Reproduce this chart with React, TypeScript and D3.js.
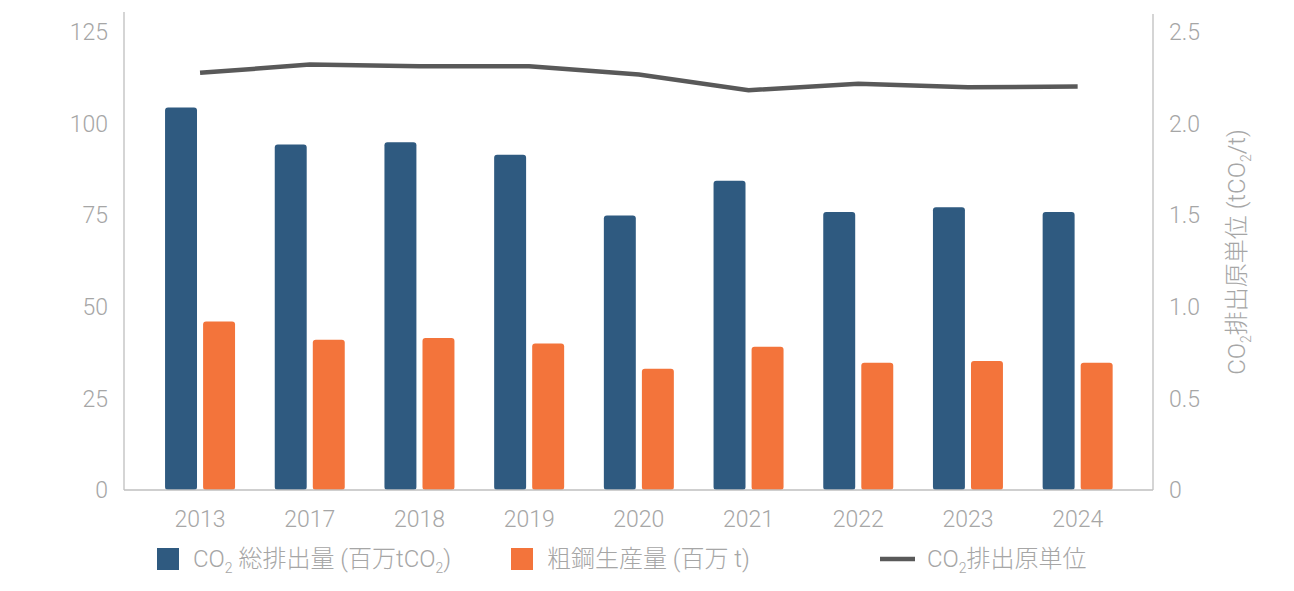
import React, { useEffect, useRef } from "react";
import * as d3 from "d3";

// data
const years = ["2013", "2017", "2018", "2019", "2020", "2021", "2022", "2023", "2024"];
const co2Total = [104.4, 94.3, 94.9, 91.5, 74.9, 84.4, 75.9, 77.2, 75.9]; // 百万tCO2
const steelOutput = [46.0, 41.0, 41.5, 40.0, 33.1, 39.1, 34.7, 35.2, 34.7]; // 百万t
const intensity = [2.277, 2.322, 2.313, 2.313, 2.268, 2.182, 2.217, 2.198, 2.202]; // tCO2/t
const leftTicks = [0, 25, 50, 75, 100, 125];
const rightTicks = [0, 0.5, 1.0, 1.5, 2.0, 2.5];

const BLUE = "#2F5A80";
const ORANGE = "#F3743B";
const LINE = "#595959";
const TEXT = "#A6A6A6";
const AXIS = "#BFBFBF";
const FONT = "Roboto, 'Noto Sans CJK JP', sans-serif";

export default function App() {
  const ref = useRef<SVGSVGElement>(null);

  useEffect(() => {
    const width = 1294,
      height = 591;
    const svg = d3.select(ref.current);
    svg.selectAll("*").remove();
    svg.attr("width", width).attr("height", height);

    const plotLeft = 124,
      plotRight = 1153,
      plotBottom = 490,
      plotTop = 32;

    // x scale for year groups
    const x = d3.scaleBand().domain(years).range([145.2, 1132.5]).padding(0);
    const x1 = d3.scaleBand().domain(["co2", "steel"]).range([-35, 35]).paddingInner(0.16);

    const y = d3.scaleLinear().domain([0, 125]).range([plotBottom, plotTop]);
    const y2 = d3.scaleLinear().domain([0, 2.5]).range([plotBottom, plotTop]);

    const cx = (d: string) => (x(d) as number) + x.bandwidth() / 2;

    // axis lines
    svg
      .append("line")
      .attr("x1", plotLeft)
      .attr("x2", plotLeft)
      .attr("y1", 12)
      .attr("y2", plotBottom)
      .attr("stroke", AXIS)
      .attr("stroke-width", 1.3);
    svg
      .append("line")
      .attr("x1", plotRight)
      .attr("x2", plotRight)
      .attr("y1", 14)
      .attr("y2", plotBottom)
      .attr("stroke", AXIS)
      .attr("stroke-width", 1.3);

    // left ticks
    svg
      .append("g")
      .selectAll("text")
      .data(leftTicks)
      .enter()
      .append("text")
      .attr("x", 108)
      .attr("y", (d) => y(d))
      .attr("dy", "0.36em")
      .attr("text-anchor", "end")
      .attr("font-family", FONT)
      .attr("font-weight", 300)
      .attr("font-size", 23)
      .attr("fill", TEXT)
      .text((d) => d);

    // right ticks
    svg
      .append("g")
      .selectAll("text")
      .data(rightTicks)
      .enter()
      .append("text")
      .attr("x", 1169)
      .attr("y", (d) => y2(d))
      .attr("dy", "0.36em")
      .attr("text-anchor", "start")
      .attr("font-family", FONT)
      .attr("font-weight", 300)
      .attr("font-size", 23)
      .attr("fill", TEXT)
      .text((d) => (d === 0 ? "0" : d3.format(".1f")(d)));

    // right axis title
    const title = svg
      .append("text")
      .attr("transform", "translate(1245,252) rotate(-90)")
      .attr("text-anchor", "middle")
      .attr("font-family", FONT)
      .attr("font-weight", 300)
      .attr("font-size", 24)
      .attr("fill", TEXT);
    title.append("tspan").text("CO");
    title.append("tspan").attr("font-size", 14).attr("dy", 6).text("2");
    title.append("tspan").attr("dy", -6).text("排出原単位 (tCO");
    title.append("tspan").attr("font-size", 14).attr("dy", 6).text("2");
    title.append("tspan").attr("dy", -6).text("/t)");

    // bars
    const groups = svg
      .append("g")
      .selectAll("g")
      .data(years)
      .enter()
      .append("g")
      .attr("transform", (d) => "translate(" + cx(d) + ",0)");

    groups
      .append("rect")
      .attr("x", x1("co2") as number)
      .attr("width", x1.bandwidth())
      .attr("y", (d, i) => y(co2Total[i]))
      .attr("height", (d, i) => plotBottom - y(co2Total[i]))
      .attr("rx", 3)
      .attr("fill", BLUE);

    groups
      .append("rect")
      .attr("x", x1("steel") as number)
      .attr("width", x1.bandwidth())
      .attr("y", (d, i) => y(steelOutput[i]))
      .attr("height", (d, i) => plotBottom - y(steelOutput[i]))
      .attr("rx", 3)
      .attr("fill", ORANGE);

    // bottom axis line drawn over the bar bottoms
    svg
      .append("line")
      .attr("x1", plotLeft)
      .attr("x2", plotRight)
      .attr("y1", plotBottom)
      .attr("y2", plotBottom)
      .attr("stroke", AXIS)
      .attr("stroke-width", 1.3);

    // intensity line
    const line = d3
      .line<number>()
      .x((d, i) => cx(years[i]))
      .y((d) => y2(d));
    svg
      .append("path")
      .datum(intensity)
      .attr("d", line)
      .attr("fill", "none")
      .attr("stroke", LINE)
      .attr("stroke-width", 4.5);

    // x labels
    svg
      .append("g")
      .selectAll("text")
      .data(years)
      .enter()
      .append("text")
      .attr("x", (d) => cx(d))
      .attr("y", 527)
      .attr("text-anchor", "middle")
      .attr("font-family", FONT)
      .attr("font-weight", 300)
      .attr("font-size", 23)
      .attr("fill", TEXT)
      .text((d) => d);

    // legend
    const leg = svg.append("g").attr("font-family", FONT).attr("font-weight", 300).attr("fill", TEXT);
    const ly = 559;

    leg.append("rect").attr("x", 157).attr("y", ly - 11).attr("width", 22).attr("height", 22).attr("fill", BLUE);
    const t1 = leg.append("text").attr("x", 193).attr("y", ly + 8).attr("font-size", 24);
    t1.append("tspan").text("CO");
    t1.append("tspan").attr("font-size", 14).attr("dy", 6).text("2");
    t1.append("tspan").attr("dy", -6).text(" 総排出量 (百万tCO");
    t1.append("tspan").attr("font-size", 14).attr("dy", 6).text("2");
    t1.append("tspan").attr("dy", -6).text(")");

    leg.append("rect").attr("x", 511).attr("y", ly - 11).attr("width", 22).attr("height", 22).attr("fill", ORANGE);
    leg.append("text").attr("x", 547).attr("y", ly + 8).attr("font-size", 24).text("粗鋼生産量 (百万 t)");

    leg
      .append("line")
      .attr("x1", 880)
      .attr("x2", 915)
      .attr("y1", ly)
      .attr("y2", ly)
      .attr("stroke", LINE)
      .attr("stroke-width", 4.5);
    const t3 = leg.append("text").attr("x", 927).attr("y", ly + 8).attr("font-size", 24);
    t3.append("tspan").text("CO");
    t3.append("tspan").attr("font-size", 14).attr("dy", 6).text("2");
    t3.append("tspan").attr("dy", -6).text("排出原単位");
  }, []);

  return <svg ref={ref} style={{ position: "absolute", left: 0, top: 0, display: "block" }} />;
}
